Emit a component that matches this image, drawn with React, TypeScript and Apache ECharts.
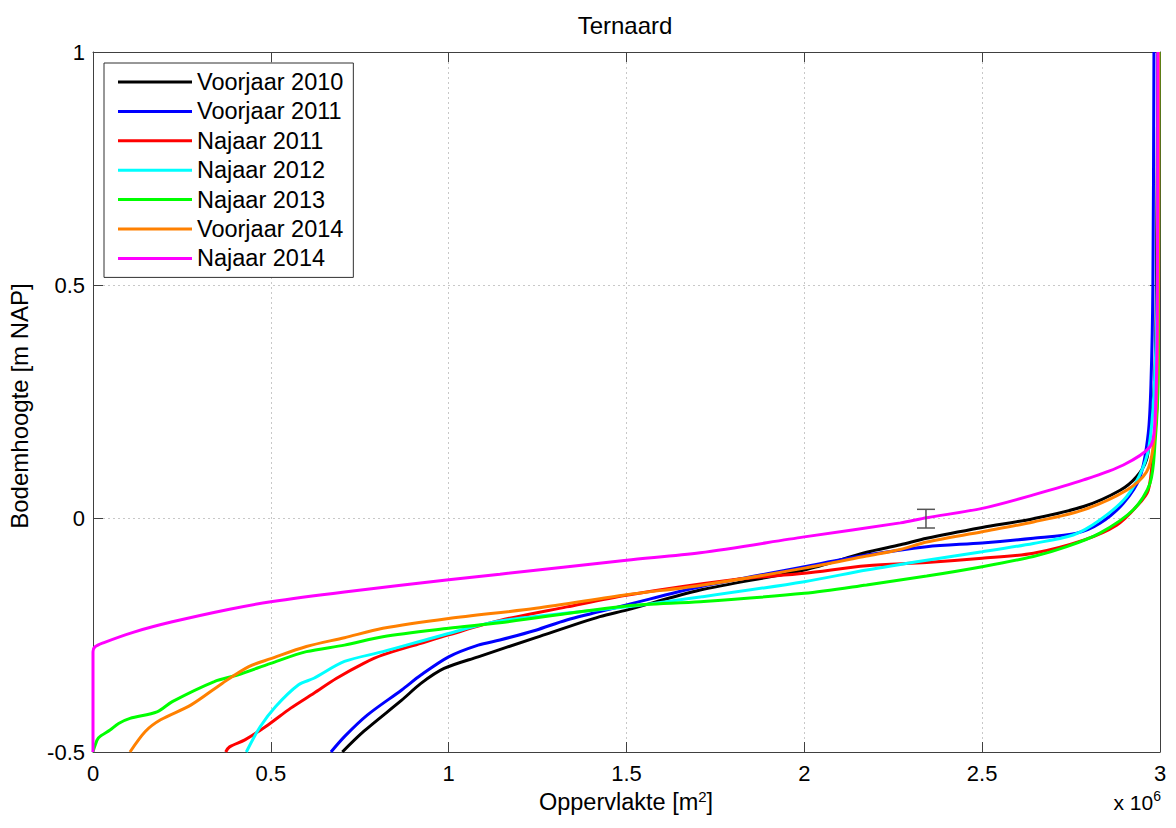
import React, { useEffect, useRef } from "react";
import * as echarts from "echarts";

const FONT = "'Liberation Sans', Arial, Helvetica, sans-serif";

const chartTitle = "Ternaard";
const seriesNames = [
  "Voorjaar 2010",
  "Voorjaar 2011",
  "Najaar 2011",
  "Najaar 2012",
  "Najaar 2013",
  "Voorjaar 2014",
  "Najaar 2014",
];
const seriesColors = ["#000000", "#0000ff", "#ff0000", "#00ffff", "#00ff00", "#ff8000", "#ff00ff"];

// [area (x 10^6 m2), bed level (m NAP)]
const voorjaar2010: [number, number][] = [
  [0.701, -0.5], [0.761, -0.456], [0.868, -0.389], [0.922, -0.353], [0.987, -0.321],
  [1.083, -0.296], [1.245, -0.255], [1.425, -0.21], [1.5, -0.196], [1.707, -0.153],
  [2.0, -0.11], [2.175, -0.072], [2.27, -0.056], [2.344, -0.042], [2.5, -0.019],
  [2.644, 0.0], [2.785, 0.026], [2.888, 0.061], [2.934, 0.09], [2.962, 0.126],
  [2.972, 0.183], [2.985, 0.3], [2.99, 0.5], [2.994, 1.0],
];
const voorjaar2011: [number, number][] = [
  [0.669, -0.5], [0.707, -0.467], [0.771, -0.421], [0.868, -0.367], [0.922, -0.335],
  [1.0, -0.296], [1.083, -0.271], [1.144, -0.26], [1.245, -0.239], [1.332, -0.217],
  [1.5, -0.185], [1.707, -0.146], [2.0, -0.103], [2.175, -0.078], [2.344, -0.06],
  [2.5, -0.052], [2.644, -0.042], [2.766, -0.031], [2.831, -0.01], [2.897, 0.033],
  [2.944, 0.09], [2.967, 0.183], [2.975, 0.3], [2.98, 0.5], [2.983, 1.0],
];
const najaar2011: [number, number][] = [
  [0.373, -0.5], [0.384, -0.489], [0.427, -0.474], [0.492, -0.442], [0.556, -0.406],
  [0.621, -0.374], [0.685, -0.342], [0.761, -0.31], [0.815, -0.292], [0.922, -0.267],
  [1.0, -0.249], [1.144, -0.218], [1.332, -0.189], [1.5, -0.164], [1.8, -0.131],
  [2.0, -0.117], [2.175, -0.101], [2.344, -0.094], [2.5, -0.085], [2.644, -0.074],
  [2.785, -0.046], [2.878, -0.014], [2.934, 0.026], [2.967, 0.061], [2.981, 0.147],
  [2.992, 0.25], [2.996, 0.5], [2.997, 1.0],
];
const najaar2012: [number, number][] = [
  [0.431, -0.5], [0.47, -0.446], [0.513, -0.403], [0.578, -0.356], [0.621, -0.342],
  [0.707, -0.306], [0.815, -0.285], [1.0, -0.246], [1.144, -0.219], [1.5, -0.189],
  [1.707, -0.168], [2.0, -0.135], [2.175, -0.11], [2.344, -0.089], [2.5, -0.071],
  [2.644, -0.053], [2.756, -0.035], [2.831, -0.003], [2.906, 0.047], [2.953, 0.111],
  [2.972, 0.169], [2.985, 0.3], [2.992, 0.5], [2.995, 1.0],
];
const najaar2013: [number, number][] = [
  [0.0, -0.5], [0.004, -0.49], [0.015, -0.47], [0.048, -0.453], [0.072, -0.439],
  [0.104, -0.428], [0.18, -0.414], [0.223, -0.392], [0.341, -0.349], [0.406, -0.335],
  [0.5, -0.31], [0.6, -0.285], [0.707, -0.271], [0.815, -0.253], [1.0, -0.235],
  [1.144, -0.223], [1.5, -0.187], [1.707, -0.178], [2.0, -0.16], [2.175, -0.142],
  [2.344, -0.123], [2.5, -0.103], [2.644, -0.081], [2.738, -0.06], [2.831, -0.031],
  [2.925, 0.019], [2.972, 0.076], [2.986, 0.162], [2.995, 0.3], [2.997, 1.0],
];
const voorjaar2014: [number, number][] = [
  [0.104, -0.5], [0.147, -0.456], [0.19, -0.431], [0.276, -0.399], [0.363, -0.353],
  [0.438, -0.317], [0.5, -0.3], [0.6, -0.274], [0.707, -0.255], [0.815, -0.235],
  [1.0, -0.214], [1.245, -0.192], [1.5, -0.163], [1.707, -0.143], [2.0, -0.106],
  [2.175, -0.08], [2.27, -0.066], [2.344, -0.05], [2.5, -0.028], [2.644, -0.007],
  [2.785, 0.019], [2.906, 0.061], [2.962, 0.1], [2.981, 0.154], [2.99, 0.25],
  [2.995, 0.5], [2.996, 1.0],
];
const najaar2014: [number, number][] = [
  [0.0, -0.5], [0.0, -0.285], [0.005, -0.275], [0.029, -0.266], [0.115, -0.243],
  [0.223, -0.221], [0.384, -0.194], [0.5, -0.178], [0.707, -0.157], [1.0, -0.131],
  [1.144, -0.119], [1.5, -0.089], [1.707, -0.073], [2.0, -0.039], [2.27, -0.009],
  [2.344, 0.002], [2.5, 0.022], [2.644, 0.051], [2.785, 0.083], [2.897, 0.115],
  [2.972, 0.154], [2.985, 0.2], [2.992, 0.4], [2.994, 1.0],
];
const seriesData = [voorjaar2010, voorjaar2011, najaar2011, najaar2012, najaar2013, voorjaar2014, najaar2014];

// [x, low, high]
const errorBar: [number, number, number][] = [[2.342, -0.02, 0.02]];

const xTicks = [0, 0.5, 1, 1.5, 2, 2.5, 3];
const yTicks = [-0.5, 0, 0.5, 1];

const AXIS_COLOR = "#404040";

export default function App() {
  const ref = useRef<HTMLDivElement>(null);
  useEffect(() => {
    if (!ref.current) return;
    const chart = echarts.init(ref.current, undefined, { renderer: "svg" });
    const xMin = xTicks[0];
    const xMax = xTicks[xTicks.length - 1];
    const xStep = xTicks[1] - xTicks[0];
    const yMin = yTicks[0];
    const yMax = yTicks[yTicks.length - 1];
    const yStep = yTicks[1] - yTicks[0];

    const baseAxis = {
      type: "value",
      axisLine: { show: true, onZero: false, lineStyle: { color: AXIS_COLOR, width: 1 } },
      axisTick: { show: true, inside: true, length: 10, lineStyle: { color: AXIS_COLOR, width: 1 } },
    };

    const option: any = {
      animation: false,
      backgroundColor: "#ffffff",
      textStyle: { fontFamily: FONT },
      grid: { left: 93, right: 16, top: 52, bottom: 76, containLabel: false, outerBoundsMode: "none" },
      legend: {
        data: seriesNames,
        orient: "vertical",
        left: 104,
        top: 63,
        padding: [7, 10, 7, 14],
        icon: "rect",
        itemWidth: 74,
        itemHeight: 3,
        itemGap: 5.4,
        backgroundColor: "#ffffff",
        borderColor: "#303030",
        borderWidth: 1,
        borderRadius: 0,
        textStyle: { fontFamily: FONT, fontSize: 23.5, color: "#000" },
      },
      xAxis: [
        {
          ...baseAxis,
          position: "bottom",
          min: xMin,
          max: xMax,
          interval: xStep,
          axisLabel: { show: true, margin: 10, fontSize: 22, color: "#000", fontFamily: FONT },
          splitLine: { show: true, lineStyle: { color: "#c8c8c8", type: [2, 3], width: 1 } },
        },
        {
          ...baseAxis,
          position: "top",
          min: xMin,
          max: xMax,
          interval: xStep,
          axisLabel: { show: false },
          splitLine: { show: false },
        },
      ],
      yAxis: [
        {
          ...baseAxis,
          position: "left",
          min: yMin,
          max: yMax,
          interval: yStep,
          axisLabel: { show: true, margin: 8, fontSize: 22, color: "#000", fontFamily: FONT },
          splitLine: { show: true, lineStyle: { color: "#c8c8c8", type: [2, 3], width: 1 } },
        },
        {
          ...baseAxis,
          position: "right",
          min: yMin,
          max: yMax,
          interval: yStep,
          axisLabel: { show: false },
          splitLine: { show: false },
        },
      ],
      series: [
        ...seriesNames.map((name, i) => ({
          name,
          type: "line",
          xAxisIndex: 0,
          yAxisIndex: 0,
          data: seriesData[i],
          showSymbol: false,
          symbol: "none",
          smooth: 0.3,
          color: seriesColors[i],
          lineStyle: { color: seriesColors[i], width: 3 },
          z: 3,
        })),
        {
          name: "errorbar",
          type: "custom",
          xAxisIndex: 0,
          yAxisIndex: 0,
          data: errorBar,
          z: 5,
          renderItem: (params: any, api: any) => {
            const x = api.value(0);
            const lo = api.coord([x, api.value(1)]);
            const hi = api.coord([x, api.value(2)]);
            const hw = 9;
            const style = { stroke: "#555555", lineWidth: 1.5 };
            return {
              type: "group",
              children: [
                { type: "line", shape: { x1: lo[0], y1: lo[1], x2: hi[0], y2: hi[1] }, style },
                { type: "line", shape: { x1: lo[0] - hw, y1: lo[1], x2: lo[0] + hw, y2: lo[1] }, style },
                { type: "line", shape: { x1: hi[0] - hw, y1: hi[1], x2: hi[0] + hw, y2: hi[1] }, style },
              ],
            };
          },
        },
      ],
      graphic: [
        {
          type: "text",
          x: 625,
          y: 25,
          style: {
            text: chartTitle,
            fontFamily: FONT,
            fontSize: 24,
            fill: "#000",
            textAlign: "center",
            textVerticalAlign: "middle",
          },
        },
        {
          type: "text",
          x: 19,
          y: 406,
          rotation: Math.PI / 2,
          style: {
            text: "Bodemhoogte [m NAP]",
            fontFamily: FONT,
            fontSize: 24,
            fill: "#000",
            textAlign: "center",
            textVerticalAlign: "middle",
          },
        },
        {
          type: "text",
          x: 626,
          y: 801,
          style: {
            text: "{a|Oppervlakte [m}{s|2}{a|]}",
            fontFamily: FONT,
            fill: "#000",
            textAlign: "center",
            textVerticalAlign: "middle",
            rich: {
              a: { fontSize: 23.5, fontFamily: FONT, fill: "#000", lineHeight: 25, verticalAlign: "bottom" },
              s: { fontSize: 15, fontFamily: FONT, fill: "#000", lineHeight: 15, verticalAlign: "top" },
            },
          },
        },
        {
          type: "text",
          x: 1161,
          y: 801,
          style: {
            text: "{a|x 10}{s|6}",
            fontFamily: FONT,
            fill: "#000",
            textAlign: "right",
            textVerticalAlign: "middle",
            rich: {
              a: { fontSize: 21, fontFamily: FONT, fill: "#000", lineHeight: 24, verticalAlign: "bottom" },
              s: { fontSize: 14, fontFamily: FONT, fill: "#000", lineHeight: 14, verticalAlign: "top" },
            },
          },
        },
      ],
    };
    chart.setOption(option);
    return () => chart.dispose();
  }, []);
  return (
    <div
      ref={ref}
      style={{ position: "absolute", left: 0, top: 0, width: 1176, height: 828, background: "#fff" }}
    />
  );
}
